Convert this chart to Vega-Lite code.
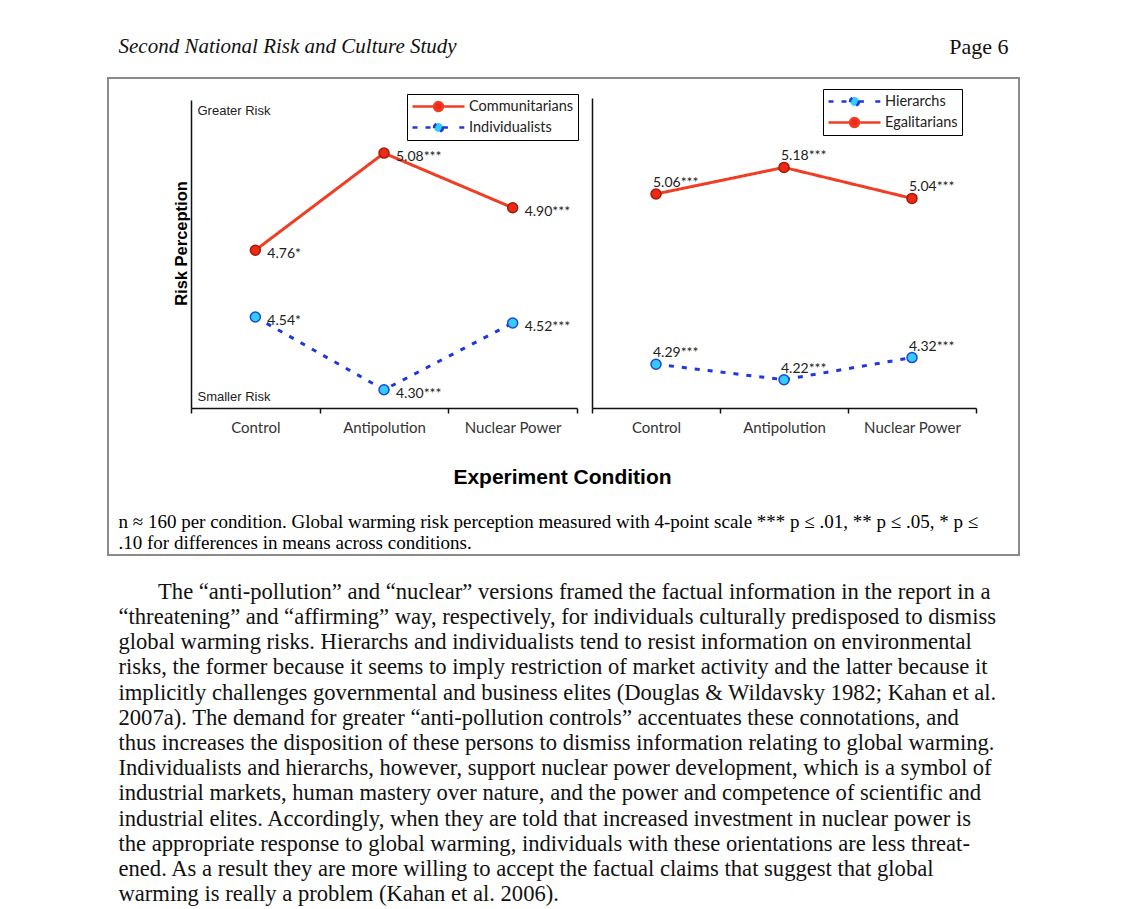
{
  "$schema": "https://vega.github.io/schema/vega-lite/v6.json",
  "background": "white",
  "padding": {"left": 107, "top": 35, "right": 0, "bottom": 0},
  "bounds": "flush",
  "center": true,
  "spacing": 24,
  "config": {"font": "Liberation Sans", "axis": {"grid": false}},
  "datasets": {
    "header": [
      {"side": "left", "text": "Second National Risk and Culture Study"},
      {"side": "right", "text": "Page 6"}
    ],
    "left": [
      {"condition": "Control", "group": "Communitarians", "value": 4.76, "label": "4.76*"},
      {"condition": "Antipolution", "group": "Communitarians", "value": 5.08, "label": "5.08***"},
      {"condition": "Nuclear Power", "group": "Communitarians", "value": 4.90, "label": "4.90***"},
      {"condition": "Control", "group": "Individualists", "value": 4.54, "label": "4.54*"},
      {"condition": "Antipolution", "group": "Individualists", "value": 4.30, "label": "4.30***"},
      {"condition": "Nuclear Power", "group": "Individualists", "value": 4.52, "label": "4.52***"}
    ],
    "right": [
      {"condition": "Control", "group": "Hierarchs", "value": 4.29, "label": "4.29***"},
      {"condition": "Antipolution", "group": "Hierarchs", "value": 4.22, "label": "4.22***"},
      {"condition": "Nuclear Power", "group": "Hierarchs", "value": 4.32, "label": "4.32***"},
      {"condition": "Control", "group": "Egalitarians", "value": 5.06, "label": "5.06***"},
      {"condition": "Antipolution", "group": "Egalitarians", "value": 5.18, "label": "5.18***"},
      {"condition": "Nuclear Power", "group": "Egalitarians", "value": 5.04, "label": "5.04***"}
    ],
    "paragraph": [
      {"line": 1, "text": "\u200d\u00a0\u00a0\u00a0\u00a0\u00a0\u00a0\u00a0The “anti-pollution” and “nuclear” versions framed the factual information in the report in a"},
      {"line": 2, "text": "“threatening” and “affirming” way, respectively, for individuals culturally predisposed to dismiss"},
      {"line": 3, "text": "global warming risks. Hierarchs and individualists tend to resist information on environmental"},
      {"line": 4, "text": "risks, the former because it seems to imply restriction of market activity and the latter because it"},
      {"line": 5, "text": "implicitly challenges governmental and business elites (Douglas & Wildavsky 1982; Kahan et al."},
      {"line": 6, "text": "2007a). The demand for greater “anti-pollution controls” accentuates these connotations, and"},
      {"line": 7, "text": "thus increases the disposition of these persons to dismiss information relating to global warming."},
      {"line": 8, "text": "Individualists and hierarchs, however, support nuclear power development, which is a symbol of"},
      {"line": 9, "text": "industrial markets, human mastery over nature, and the power and competence of scientific and"},
      {"line": 10, "text": "industrial elites. Accordingly, when they are told that increased investment in nuclear power is"},
      {"line": 11, "text": "the appropriate response to global warming, individuals with these orientations are less threat-"},
      {"line": 12, "text": "ened. As a result they are more willing to accept the factual claims that suggest that global"},
      {"line": 13, "text": "warming is really a problem (Kahan et al. 2006)."}
    ]
  },
  "vconcat": [
    {
      "width": 890,
      "height": 15,
      "view": {"stroke": null},
      "data": {"name": "header"},
      "encoding": {
        "x": {"field": "side", "type": "nominal", "scale": {"type": "point", "domain": ["left", "right"], "padding": 0}, "axis": null},
        "text": {"field": "text"}
      },
      "layer": [
        {
          "transform": [{"filter": "datum.side === 'left'"}],
          "mark": {"type": "text", "align": "left", "baseline": "middle", "font": "Liberation Serif", "fontStyle": "italic", "fontSize": 21, "color": "#111"}
        },
        {
          "transform": [{"filter": "datum.side === 'right'"}],
          "mark": {"type": "text", "align": "right", "baseline": "middle", "font": "Liberation Serif", "fontSize": 22, "color": "#111"}
        }
      ]
    },
    {
      "width": 911,
      "height": 477,
      "view": {"stroke": "#8a8a8a", "strokeWidth": 2},
      "layer": [
        {
          "data": {"name": "left"},
          "encoding": {
            "x": {
              "field": "condition", "type": "nominal", "sort": ["Control", "Antipolution", "Nuclear Power"],
              "scale": {"type": "band", "paddingInner": 0, "paddingOuter": 0, "range": [83, 469]},
              "axis": {
                "orient": "bottom", "offset": -147, "tickBand": "extent", "domainColor": "#111", "domainWidth": 1.5,
                "tickColor": "#111", "tickWidth": 1.5, "tickSize": 5, "labelFont": "Lato", "labelFontSize": 15,
                "labelColor": "#333", "labelPadding": 7, "labelAngle": 0,
                "title": "Experiment Condition", "titleFont": "Liberation Sans", "titleFontSize": 21, "titleFontWeight": "bold",
                "titleColor": "#000", "titleX": 454, "titleY": 69, "titleBaseline": "middle", "titleAlign": "center"
              }
            },
            "y": {
              "field": "value", "type": "quantitative",
              "scale": {"domain": [4.24, 5.255], "range": [330, 22], "nice": false, "zero": false},
              "axis": {
                "orient": "left", "offset": -83, "values": [4.278, 5.219],
                "labelExpr": "datum.value > 5 ? 'Greater Risk' : 'Smaller Risk'",
                "ticks": false, "tickSize": 0, "labelAlign": "left", "labelBaseline": "middle", "labelPadding": -6,
                "labelFont": "Liberation Sans", "labelFontSize": 13, "labelColor": "#222", "labelFlush": false, "labelOverlap": false,
                "domainColor": "#111", "domainWidth": 1.5,
                "title": "Risk Perception", "titleFont": "Liberation Sans", "titleFontSize": 16.5, "titleFontWeight": "bold",
                "titleColor": "#000", "titleX": -5, "titleY": 165, "titleAngle": 270, "titleBaseline": "alphabetic", "titleAlign": "center"
              }
            }
          },
          "layer": [
            {
              "mark": {"type": "line", "strokeWidth": 3},
              "encoding": {
                "color": {
                  "field": "group", "type": "nominal",
                  "scale": {"domain": ["Communitarians", "Individualists"], "range": ["#ef3e23", "#1f36e0"]},
                  "legend": {
                    "title": null, "orient": "none", "legendX": 299, "legendY": 16, "direction": "vertical",
                    "strokeColor": "#000", "fillColor": "#fff", "padding": 4,
                    "labelFont": "Lato", "labelFontSize": 14.5, "labelColor": "#222", "labelOffset": 3,
                    "symbolType": "M-1,0H1", "symbolSize": 2704, "symbolStrokeWidth": 2.5, "clipHeight": 17, "rowPadding": 4,
                    "encode": {
                      "symbols": {"update": {
                        "shape": {"signal": "datum.value === 'Individualists' ? 'M-1,0H-0.8M-0.5,0H-0.17M0.17,0H0.5M0.8,0H1M0.17,0A0.17,0.17,0,1,1,-0.17,0A0.17,0.17,0,1,1,0.17,0Z' : 'M-1,0H-0.17M0.17,0H1M0.17,0A0.17,0.17,0,1,1,-0.17,0A0.17,0.17,0,1,1,0.17,0Z'"},
                        "fill": {"signal": "datum.value === 'Individualists' ? '#33ccff' : '#ee2a14'"}
                      }}
                    }
                  }
                },
                "strokeDash": {
                  "field": "group", "type": "nominal",
                  "scale": {"domain": ["Communitarians", "Individualists"], "range": [[1, 0], [5, 8]]},
                  "legend": null
                },
                "order": {"value": null}
              }
            },
            {
              "mark": {"type": "circle", "size": 100, "strokeWidth": 1.5, "opacity": 1},
              "encoding": {
                "fill": {"field": "group", "type": "nominal", "scale": {"domain": ["Communitarians", "Individualists"], "range": ["#ee2a14", "#33ccff"]}, "legend": null},
                "stroke": {"field": "group", "type": "nominal", "scale": {"domain": ["Communitarians", "Individualists"], "range": ["#a31a0b", "#1e46d6"]}, "legend": null}
              }
            },
            {
              "mark": {"type": "text", "align": "left", "baseline": "middle", "dx": 12, "dy": 4, "font": "Lato", "fontSize": 14, "color": "#222"},
              "encoding": {"text": {"field": "label"}}
            }
          ]
        },
        {
          "data": {"name": "right"},
          "encoding": {
            "x": {
              "field": "condition", "type": "nominal", "sort": ["Control", "Antipolution", "Nuclear Power"],
              "scale": {"type": "band", "paddingInner": 0, "paddingOuter": 0, "range": [484, 868]},
              "axis": {
                "orient": "bottom", "offset": -147, "tickBand": "extent", "domainColor": "#111", "domainWidth": 1.5,
                "tickColor": "#111", "tickWidth": 1.5, "tickSize": 5, "labelFont": "Lato", "labelFontSize": 15,
                "labelColor": "#333", "labelPadding": 7, "labelAngle": 0,
                "title": ["n ≈ 160 per condition. Global warming risk perception measured with 4-point scale *** p ≤ .01, ** p ≤ .05, * p ≤", ".10 for differences in means across conditions."],
                "titleFont": "Liberation Serif", "titleFontSize": 19, "titleFontWeight": "normal", "titleColor": "#000",
                "titleX": 10, "titleY": 104, "titleBaseline": "top", "titleAlign": "left", "titleLineHeight": 21
              }
            },
            "y": {
              "field": "value", "type": "quantitative",
              "scale": {"domain": [4.092, 5.494], "range": [330, 20], "nice": false, "zero": false},
              "axis": {"orient": "left", "offset": -484, "labels": false, "ticks": false, "title": null, "domainColor": "#111", "domainWidth": 1.5}
            }
          },
          "layer": [
            {
              "mark": {"type": "line", "strokeWidth": 3},
              "encoding": {
                "color": {
                  "field": "group", "type": "nominal",
                  "scale": {"domain": ["Hierarchs", "Egalitarians"], "range": ["#1f36e0", "#ef3e23"]},
                  "legend": {
                    "title": null, "orient": "none", "legendX": 715, "legendY": 11, "direction": "vertical",
                    "strokeColor": "#000", "fillColor": "#fff", "padding": 4,
                    "labelFont": "Lato", "labelFontSize": 14.5, "labelColor": "#222", "labelOffset": 3,
                    "symbolType": "M-1,0H1", "symbolSize": 2704, "symbolStrokeWidth": 2.5, "clipHeight": 17, "rowPadding": 4,
                    "encode": {
                      "symbols": {"update": {
                        "shape": {"signal": "datum.value === 'Hierarchs' ? 'M-1,0H-0.8M-0.5,0H-0.17M0.17,0H0.5M0.8,0H1M0.17,0A0.17,0.17,0,1,1,-0.17,0A0.17,0.17,0,1,1,0.17,0Z' : 'M-1,0H-0.17M0.17,0H1M0.17,0A0.17,0.17,0,1,1,-0.17,0A0.17,0.17,0,1,1,0.17,0Z'"},
                        "fill": {"signal": "datum.value === 'Hierarchs' ? '#33ccff' : '#ee2a14'"}
                      }}
                    }
                  }
                },
                "strokeDash": {
                  "field": "group", "type": "nominal",
                  "scale": {"domain": ["Hierarchs", "Egalitarians"], "range": [[5, 8], [1, 0]]},
                  "legend": null
                },
                "order": {"value": null}
              }
            },
            {
              "mark": {"type": "circle", "size": 100, "strokeWidth": 1.5, "opacity": 1},
              "encoding": {
                "fill": {"field": "group", "type": "nominal", "scale": {"domain": ["Hierarchs", "Egalitarians"], "range": ["#33ccff", "#ee2a14"]}, "legend": null},
                "stroke": {"field": "group", "type": "nominal", "scale": {"domain": ["Hierarchs", "Egalitarians"], "range": ["#1e46d6", "#a31a0b"]}, "legend": null}
              }
            },
            {
              "mark": {"type": "text", "align": "left", "baseline": "middle", "dx": -3, "dy": -11, "font": "Lato", "fontSize": 14, "color": "#222"},
              "encoding": {"text": {"field": "label"}}
            }
          ]
        }
      ],
      "resolve": {
        "scale": {"x": "independent", "y": "independent", "color": "independent", "fill": "independent", "stroke": "independent", "strokeDash": "independent"},
        "axis": {"x": "independent", "y": "independent"},
        "legend": {"color": "independent"}
      }
    },
    {
      "width": 890,
      "height": 328,
      "view": {"stroke": null},
      "data": {"name": "paragraph"},
      "mark": {"type": "text", "align": "left", "baseline": "middle", "font": "Liberation Serif", "fontSize": 22.6, "color": "#111"},
      "encoding": {
        "y": {"field": "line", "type": "ordinal", "scale": {"type": "point", "padding": 0.5}, "axis": null},
        "x": {"datum": 0, "type": "quantitative", "scale": {"domain": [0, 1]}, "axis": null},
        "text": {"field": "text"}
      }
    }
  ]
}
